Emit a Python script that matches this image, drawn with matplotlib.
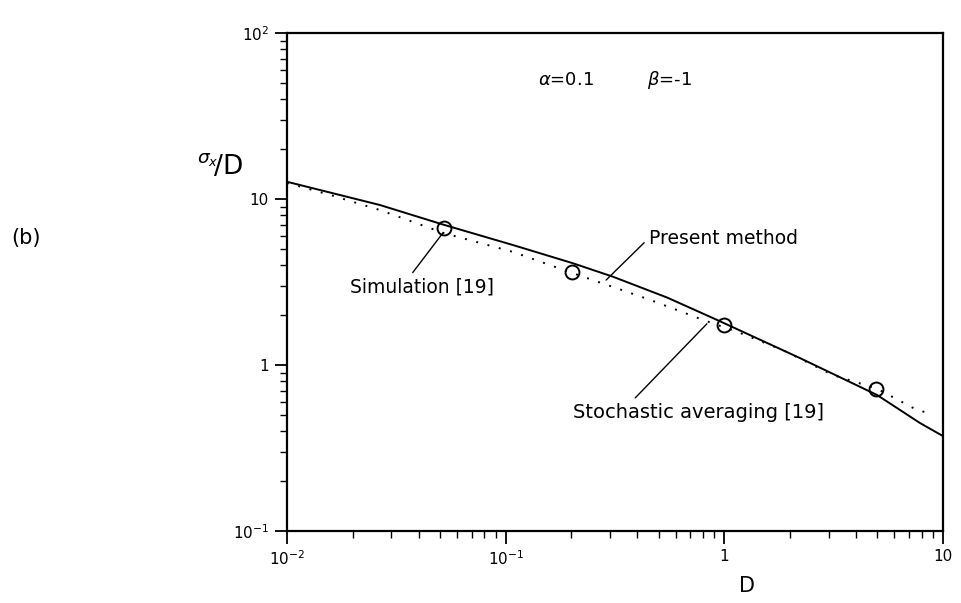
import matplotlib
matplotlib.use("Agg")
import matplotlib.pyplot as plt
from matplotlib.ticker import FixedLocator, FixedFormatter, LogLocator, NullFormatter

plt.rcParams["font.family"] = ["DejaVu Sans"]
plt.rcParams["mathtext.fontset"] = "dejavusans"

# Present method (solid)
present_D = [0.01, 0.0266, 0.052, 0.108, 0.202, 0.31, 0.547, 0.925, 2.22, 4.99, 7.83, 10.0]
present_y = [12.7, 9.2, 7.0, 5.28, 4.11, 3.40, 2.55, 1.87, 1.10, 0.66, 0.448, 0.373]

# Stochastic averaging [19] (dotted)
stoch_D = [0.01, 0.0157, 0.0266, 0.052, 0.108, 0.202, 0.31, 0.457, 0.798, 1.18, 1.85, 3.14, 4.99, 7.6, 8.3]
stoch_y = [12.5, 10.6, 8.58, 6.24, 4.80, 3.58, 2.95, 2.47, 1.87, 1.56, 1.23, 0.87, 0.72, 0.536, 0.52]

# Simulation [19] (open circles)
sim_D = [0.052, 0.202, 1.0, 4.94]
sim_y = [6.66, 3.63, 1.74, 0.72]

x_ticks = [1e-2, 1e-1, 1, 10]
x_tick_labels = [r"$10^{-2}$", r"$10^{-1}$", "1", "10"]
y_ticks = [1e-1, 1, 10, 1e2]
y_tick_labels = [r"$10^{-1}$", "1", "10", r"$10^{2}$"]

fig = plt.figure(figsize=(9.62, 6.03), dpi=100)
ax = fig.add_axes([287 / 962, 1 - 531 / 603, (943 - 287) / 962, (531 - 33) / 603])

ax.plot(present_D, present_y, color="black", linewidth=1.4)
ax.plot(stoch_D, stoch_y, color="black", linewidth=1.4, linestyle=(0, (1, 5)))
ax.plot(sim_D, sim_y, linestyle="none", marker="o", markersize=10,
        markerfacecolor="none", markeredgecolor="black", markeredgewidth=1.4)

ax.set_xscale("log")
ax.set_yscale("log")
ax.set_xlim(1e-2, 10)
ax.set_ylim(1e-1, 1e2)

ax.xaxis.set_major_locator(FixedLocator(x_ticks))
ax.xaxis.set_major_formatter(FixedFormatter(x_tick_labels))
ax.yaxis.set_major_locator(FixedLocator(y_ticks))
ax.yaxis.set_major_formatter(FixedFormatter(y_tick_labels))
for axis in (ax.xaxis, ax.yaxis):
    axis.set_minor_locator(LogLocator(base=10, subs=range(2, 10)))
    axis.set_minor_formatter(NullFormatter())

ax.tick_params(which="major", direction="out", length=9, width=1.3, labelsize=11, pad=4)
ax.tick_params(which="minor", direction="out", length=5, width=1.0)
for sp in ax.spines.values():
    sp.set_linewidth(1.6)

ax.set_xlabel("D", fontsize=15)
ax.xaxis.set_label_coords((747 - 287) / 656, (531 - 576) / 498)
fig.text(220 / 962, 1 - 167 / 603, r"$^{\sigma_x}\!/\mathrm{D}$", fontsize=19,
         ha="center", va="center")
fig.text(26 / 962, 1 - 238 / 603, "(b)", fontsize=15, ha="center", va="center")

ax.text(0.1406, 52, r"$\alpha$=0.1", fontsize=13, va="center")
ax.text(0.443, 52, r"$\beta$=-1", fontsize=13, va="center")

line_kw = dict(arrowstyle="-", color="black", linewidth=1.0, shrinkA=2, shrinkB=0)
ax.annotate("Present method", xy=(0.288, 3.25), xytext=(0.452, 5.82),
            fontsize=13.5, va="center", ha="left",
            arrowprops=dict(line_kw, relpos=(0.0, 0.5)))
ax.annotate("Simulation [19]", xy=(0.0516, 6.24), xytext=(0.0194, 2.95),
            fontsize=13.5, va="center", ha="left",
            arrowprops=dict(line_kw, relpos=(0.41, 1.0)))
ax.annotate("Stochastic averaging [19]", xy=(0.832, 1.77), xytext=(0.203, 0.52),
            fontsize=14, va="center", ha="left",
            arrowprops=dict(line_kw, relpos=(0.23, 1.0)))

fig.savefig("out.png", dpi=100)
